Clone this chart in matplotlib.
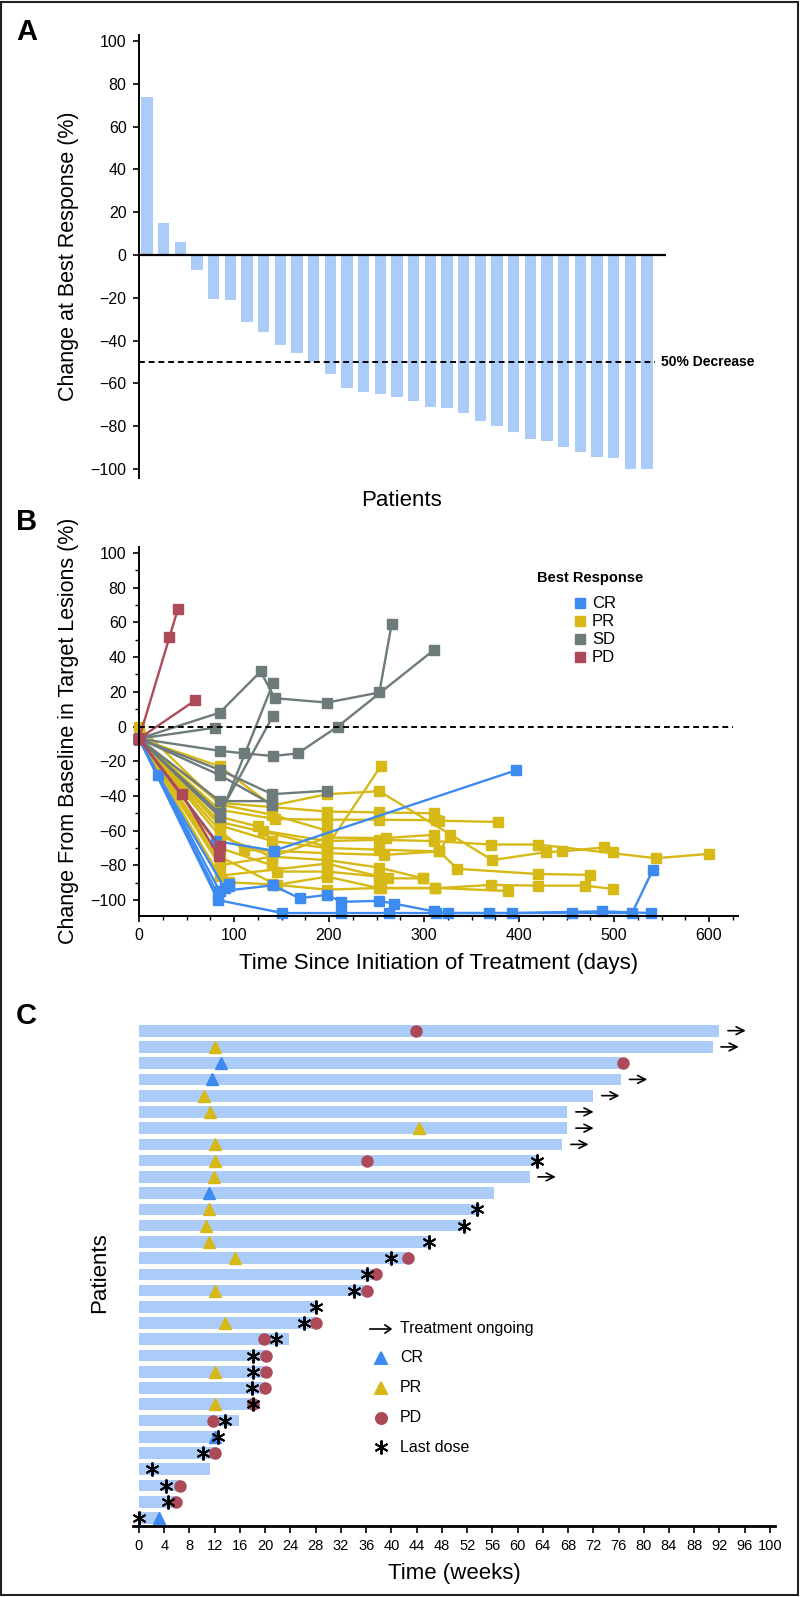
import matplotlib.pyplot as plt
from matplotlib.ticker import MultipleLocator
from matplotlib.patches import Rectangle

plt.rcParams['font.family'] = ['Liberation Sans', 'DejaVu Sans']

W, H = 800, 1597

# ---- Panel A: best response waterfall (one bar per patient)
best_change = [74, 15, 6, -7, -20.5, -21, -31.5, -36, -42, -46, -50, -55.5, -62, -64,
               -65, -66.5, -68, -71, -71.5, -74, -77.5, -80, -82.5, -86, -87, -89.5,
               -92, -94.5, -95, -100, -100]

# ---- Panel B: change from baseline over time, grouped by best response
cr_days = [[0, 83, 151, 213, 263, 313, 368, 456, 519, 541],
           [0, 85, 141, 169, 198, 213, 253, 268, 310, 325, 393, 487, 539],
           [0, 81, 142, 397],
           [0, 20, 90, 95],
           [0, 83, 95]]
cr_pct = [[-7, -100, -107.5, -107.5, -107.5, -107.5, -107.5, -107.5, -107.5, -82.5],
          [-7, -95, -91.5, -99, -97, -101, -100.5, -102, -106.5, -107.5, -107.5, -106.5, -107.5],
          [-7, -66, -71.6, -25.2],
          [-7, -28, -93, -91],
          [-7, -97, -92]]

pr_days = [[0, 85, 198, 255],
           [0, 85, 140, 198, 253, 372, 428, 445, 489, 499],
           [0, 85, 198, 253, 310, 316, 378],
           [0, 85, 143, 198, 253, 313],
           [0, 85, 125, 130, 198, 253, 310, 370, 420, 544, 600],
           [0, 85, 140, 198, 253, 316, 327],
           [0, 85, 110, 198, 258, 316, 335, 420, 475],
           [0, 85, 140, 198, 253, 299],
           [0, 85, 140, 145, 198, 253, 262, 299],
           [0, 85, 145, 198, 253, 312, 370, 420, 469, 499],
           [0, 85, 95, 140, 198, 255, 312, 388],
           [0, 85, 140, 198, 260, 310],
           [0, 85, 198, 253],
           [0, 85, 140, 198]]
pr_pct = [[-7, -55, -69, -22.5],
          [-7, -23, -45.6, -39, -37.3, -77, -72.4, -72, -69.7, -72.4],
          [-7, -44, -49, -49.5, -50, -54.3, -55],
          [-7, -48, -53.3, -53.7, -53.7, -54],
          [-7, -52, -57.6, -60, -66, -65.3, -66, -68, -68, -75.9, -73.4],
          [-7, -57, -66, -70, -71, -72, -62.4],
          [-7, -60, -71, -73, -74, -72, -82, -85, -85.5],
          [-7, -63, -75, -77, -81.3, -87.5],
          [-7, -70, -80, -83.6, -83.6, -86.5, -87.5, -87.5],
          [-7, -75, -91.3, -86.5, -93.2, -93.2, -91.3, -91.7, -91.7, -93.6],
          [-7, -78, -89.8, -91, -94, -93, -93, -94.8],
          [-7, -80, -75, -64, -64.3, -62.4],
          [-7, -86, -79, -86.5],
          [0, -45, -50.8, -60]]

sd_days = [[0, 85, 128, 143, 198, 253, 266],
           [0, 80],
           [0, 85, 141],
           [0, 85, 141],
           [0, 85, 111, 141, 167, 209, 310],
           [0, 85, 140, 198],
           [0, 85, 140],
           [0, 85, 140]]
sd_pct = [[-7, 8, 31.7, 16.3, 13.8, 19.6, 59.3],
          [-7, -0.7],
          [-7, -52, 24.8],
          [-7, -50, 6.1],
          [-7, -14, -15.5, -17, -15.5, -0.1, 43.9],
          [-7, -25, -39, -37],
          [-7, -43, -43],
          [-7, -28, -45]]

pd_days = [[0, 32, 41],
           [0, 59],
           [0, 45, 84],
           [0, 85]]
pd_pct = [[-7, 51.4, 67.8],
          [-7, 15],
          [-7, -38.9, -74.9],
          [-7, -69]]

# ---- Panel C: swimmer plot, rows listed top to bottom (weeks)
durations = [92.0, 90.9, 76.4, 76.4, 72.0, 67.9, 67.9, 67.1, 62.9, 61.9, 56.3, 54.0,
             51.8, 46.3, 43.1, 37.8, 36.2, 28.0, 28.1, 23.8, 20.2, 20.2, 20.2, 18.2,
             15.8, 12.6, 12.1, 11.2, 6.5, 5.9, 3.5]
ongoing_rows = [1, 2, 4, 5, 6, 7, 8, 10]
cr_rows = [3, 4, 11, 26, 31]
cr_weeks = [13.0, 11.6, 11.1, 12.0, 3.1]
pr_rows = [2, 5, 6, 7, 8, 9, 10, 12, 13, 14, 15, 17, 19, 22, 24]
pr_weeks = [12.0, 10.3, 11.3, 44.4, 12.0, 12.0, 11.9, 11.1, 10.7, 11.1, 15.2, 12.0,
            13.6, 12.0, 12.0]
pd_rows = [1, 3, 9, 15, 16, 17, 19, 20, 21, 22, 23, 24, 25, 27, 29, 30]
pd_weeks = [43.9, 76.7, 36.2, 42.7, 37.6, 36.1, 28.0, 19.8, 20.1, 20.1, 20.0, 18.0,
            11.8, 12.1, 6.5, 5.9]
dose_rows = [9, 12, 13, 14, 15, 16, 17, 18, 19, 20, 21, 22, 23, 24, 25, 26, 27, 28,
             29, 30, 31]
dose_weeks = [63.1, 53.5, 51.5, 46.0, 40.0, 36.1, 34.0, 28.1, 26.2, 21.7, 18.0, 18.0,
              17.9, 18.0, 13.7, 12.5, 10.1, 2.0, 4.3, 4.6, 0.05]

bar_blue = '#abcbf8'
c_cr = '#3d8af0'
c_pr = '#d6b917'
c_sd = '#6e7b7b'
c_pd = '#ad4a59'
asterisk = (6, 2, 0)


def box(l, t, r, b):
    return [l / W, 1 - b / H, (r - l) / W, (b - t) / H]


def fx(x):
    return x / W


def fy(y):
    return 1 - y / H


fig = plt.figure(figsize=(W / 100, H / 100), dpi=100)
fig.add_artist(Rectangle((1 / W, 1 - 1595 / H), 797 / W, 1593 / H, transform=fig.transFigure,
                         fill=False, lw=1.5, ec='#222222'))

for letter, y in [('A', 32), ('B', 522), ('C', 1016)]:
    fig.text(fx(16), fy(y), letter, fontsize=21, fontweight='bold', ha='left', va='center')

# ---------------- Panel A
axA = fig.add_axes(box(139, 34.6, 666, 477.6))
axA.bar(range(len(best_change)), best_change, width=0.68, color=bar_blue)
axA.axhline(0, color='k', lw=1.6)
axA.plot([-0.48, 30.48], [-50, -50], color='k', lw=1.4, dashes=(3, 2))
axA.text(30.85, -50, '50% Decrease', fontsize=10, fontweight='bold', ha='left', va='center')
axA.set_xlim(-0.48, 31.14)
axA.set_ylim(-104, 103)
axA.set_xticks([])
axA.set_yticks(range(-100, 101, 20))
for s in ['top', 'right', 'bottom']:
    axA.spines[s].set_visible(False)
axA.spines['left'].set_linewidth(1.4)
axA.tick_params(axis='y', length=4, width=1.2, labelsize=11.5, pad=5)
fig.text(fx(69), fy(256), 'Change at Best Response (%)', rotation=90, fontsize=15.5,
         ha='center', va='center')
fig.text(fx(402), fy(500), 'Patients', fontsize=16, ha='center', va='center')

# ---------------- Panel B
axB = fig.add_axes(box(139, 546.9, 737.5, 916))
for days, pct, col in ([(d, p, c_pr) for d, p in zip(pr_days, pr_pct)] +
                       [(d, p, c_sd) for d, p in zip(sd_days, sd_pct)] +
                       [(d, p, c_cr) for d, p in zip(cr_days, cr_pct)] +
                       [(d, p, c_pd) for d, p in zip(pd_days, pd_pct)]):
    axB.plot(days, pct, color=col, lw=1.7, marker='s', ms=6.5, clip_on=False)
axB.plot([0, 625], [0, 0], color='k', lw=1.4, dashes=(3, 2))
axB.set_xlim(0, 630)
axB.set_ylim(-109.2, 103.5)
axB.set_yticks(range(-100, 101, 20))
axB.set_xticks(range(0, 601, 100))
axB.yaxis.set_minor_locator(MultipleLocator(10))
axB.xaxis.set_minor_locator(MultipleLocator(25))
for s in ['top', 'right']:
    axB.spines[s].set_visible(False)
for s in ['left', 'bottom']:
    axB.spines[s].set_linewidth(1.4)
axB.tick_params(which='major', length=4, width=1.2, labelsize=11.5, pad=5)
axB.tick_params(which='minor', length=3, width=1.0)
fig.text(fx(69), fy(731), 'Change From Baseline in Target Lesions (%)', rotation=90,
         fontsize=15.5, ha='center', va='center')
fig.text(fx(439), fy(963), 'Time Since Initiation of Treatment (days)', fontsize=16,
         ha='center', va='center')

fig.text(fx(590), fy(578), 'Best Response', fontsize=10.5, fontweight='bold',
         ha='center', va='center')
for lab, col, y in [('CR', c_cr, 603), ('PR', c_pr, 621), ('SD', c_sd, 639), ('PD', c_pd, 657)]:
    fig.add_artist(plt.Line2D([fx(580)], [fy(y)], transform=fig.transFigure, marker='s',
                              ms=7, color=col, ls='none'))
    fig.text(fx(592), fy(y), lab, fontsize=12, ha='left', va='center')

# ---------------- Panel C
axC = fig.add_axes(box(133.3, 1019.3, 775, 1526))
n = len(durations)
ypos = [n - r for r in range(1, n + 1)]
axC.barh(ypos, durations, height=0.72, color=bar_blue)
for r in ongoing_rows:
    end = durations[r - 1]
    axC.annotate('', xy=(end + 4.6, n - r), xytext=(end + 0.9, n - r),
                 arrowprops=dict(arrowstyle='->', lw=1.2, color='k', mutation_scale=14),
                 annotation_clip=False)
axC.plot(pr_weeks, [n - r for r in pr_rows], ls='none', marker='^', ms=8, color=c_pr)
axC.plot(cr_weeks, [n - r for r in cr_rows], ls='none', marker='^', ms=8, color=c_cr)
axC.plot(pd_weeks, [n - r for r in pd_rows], ls='none', marker='o', ms=8, color=c_pd)
axC.plot(dose_weeks, [n - r for r in dose_rows], ls='none', marker=asterisk, ms=10,
         mew=1.4, color='k', clip_on=False)
axC.set_xlim(-0.9, 100.8)
axC.set_ylim(-0.49, 30.7)
axC.set_xticks(list(range(0, 100, 4)) + [100])
axC.set_yticks([])
for s in ['top', 'right', 'left']:
    axC.spines[s].set_visible(False)
axC.spines['bottom'].set_linewidth(2)
axC.tick_params(axis='x', length=5, width=1.2, labelsize=10.5, pad=4)
fig.text(fx(100), fy(1273), 'Patients', rotation=90, fontsize=16, ha='center', va='center')
fig.text(fx(454), fy(1573), 'Time (weeks)', fontsize=16, ha='center', va='center')

# legend of panel C
fig.add_artist(plt.Line2D([fx(370), fx(390)], [fy(1329), fy(1329)],
                          transform=fig.transFigure, color='k', lw=1.2))
fig.add_artist(plt.Line2D([fx(385), fx(391), fx(385)], [fy(1325), fy(1329), fy(1333)],
                          transform=fig.transFigure, color='k', lw=1.2))
leg_items = [('Treatment ongoing', None, None, 1329), ('CR', '^', c_cr, 1358),
             ('PR', '^', c_pr, 1388), ('PD', 'o', c_pd, 1418),
             ('Last dose', asterisk, 'k', 1447)]
for lab, mk, col, y in leg_items:
    if mk is not None:
        fig.add_artist(plt.Line2D([fx(381)], [fy(y)], transform=fig.transFigure, marker=mk,
                                  ms=10 if mk == asterisk else 8, mew=1.4, color=col,
                                  ls='none'))
    fig.text(fx(400), fy(y), lab, fontsize=11.5, ha='left', va='center')

fig.savefig('out.png', dpi=100)
